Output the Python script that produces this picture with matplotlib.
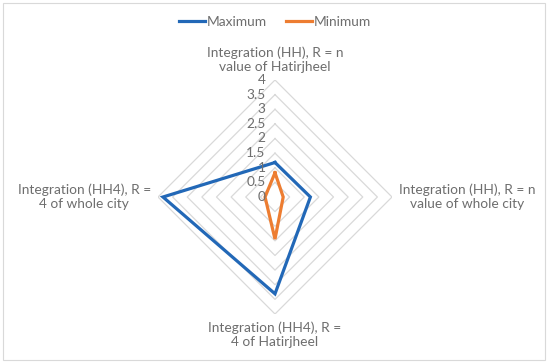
import numpy as np
import matplotlib
matplotlib.use("Agg")
import matplotlib.pyplot as plt
from matplotlib.patches import Rectangle

plt.rcParams['font.family'] = ['Lato', 'DejaVu Sans']

categories = [
    "Integration (HH), R = n\nvalue of Hatirjheel",
    "Integration (HH), R = n\nvalue of whole city",
    "Integration (HH4), R =\n4 of Hatirjheel",
    "Integration (HH4), R =\n4 of whole city",
]
maximum = [1.18, 1.21, 3.31, 3.83]
minimum = [0.83, 0.28, 1.44, 0.34]
ring_values = [0.5, 1, 1.5, 2, 2.5, 3, 3.5, 4]
tick_values = [0, 0.5, 1, 1.5, 2, 2.5, 3, 3.5, 4]
tick_labels = ["0", "0.5", "1", "1.5", "2", "2.5", "3", "3.5", "4"]

W, H = 550, 363
fig = plt.figure(figsize=(W / 100, H / 100), dpi=100)
cx, cy, R = 275, 197, 117
ax = fig.add_axes([(cx - R) / W, (H - cy - R) / H, 2 * R / W, 2 * R / H],
                  projection='polar')
ax.set_theta_zero_location('N')
ax.set_theta_direction(-1)
ax.set_ylim(0, 4)
ax.grid(False)
ax.set_xticks([])
ax.set_yticks([])
ax.spines['polar'].set_visible(False)
ax.patch.set_alpha(0)

n = len(categories)
theta = np.linspace(0, 2 * np.pi, n, endpoint=False)
theta_c = np.append(theta, theta[0])

grid_col = '#d9d9d9'
for rv in ring_values:
    ax.plot(theta_c, [rv] * (n + 1), color=grid_col, lw=0.9, zorder=1)

blue = '#2268B7'
orange = '#ED7D31'
ax.plot(theta_c, maximum + maximum[:1], color=blue, lw=2.3, label='Maximum',
        zorder=3, solid_joinstyle='miter')
ax.plot(theta_c, minimum + minimum[:1], color=orange, lw=2.3, label='Minimum',
        zorder=3, solid_joinstyle='miter')

txt_col = '#6e6e6e'
fs = 9.9
for tv, tl in zip(tick_values, tick_labels):
    ax.annotate(tl, xy=(0, tv), xytext=(-9.5, 0), textcoords='offset pixels',
                ha='right', va='center', fontsize=fs, color=txt_col,
                annotation_clip=False)

offsets = [((0, 7), 'center', 'bottom'), ((7, 0), 'left', 'center'),
           ((0, -7), 'center', 'top'), ((-7, 0), 'right', 'center')]
for th, lab, (off, ha, va) in zip(theta, categories, offsets):
    ax.annotate(lab, xy=(th, 4), xytext=off, textcoords='offset pixels',
                ha=ha, va=va, multialignment='center', fontsize=fs,
                color=txt_col, linespacing=1.22, annotation_clip=False)

leg = fig.legend(loc='center', bbox_to_anchor=(0.5, 1 - 22 / H), ncol=2,
                 frameon=False, fontsize=fs, handlelength=1.9,
                 handletextpad=0.1, columnspacing=1.4)
for t in leg.get_texts():
    t.set_color(txt_col)

fig.patches.append(Rectangle((3 / W, 3 / H), 1 - 8 / W, 1 - 6 / H,
                             transform=fig.transFigure, fill=False,
                             edgecolor='#d9d9d9', lw=0.8))

fig.savefig('out.png', dpi=100)
